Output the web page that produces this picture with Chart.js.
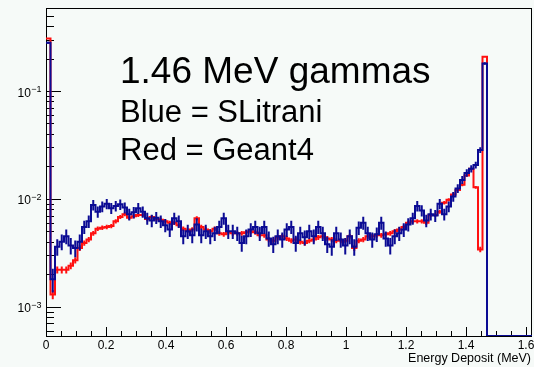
<!DOCTYPE html>
<html>
<head>
<meta charset="utf-8">
<script src="https://cdn.jsdelivr.net/npm/chart.js@4"></script>
<style>
  html, body { margin: 0; padding: 0; background: #f6faf8; }
  canvas { display: block; }
</style>
</head>
<body>
<canvas id="histo" width="534" height="367"></canvas>
<script>
// Dados (bins de 0.015 MeV) //
const binWidth = 0.015;
const xMax = 1.62;
const yMin = 5.36e-4;
const yMax = 0.588;

// SLitrani (azul)
const blueCounts = [
  0.28, 0.0018, 0.0036, 0.0040, 0.0045, 0.0037, 0.0035, 0.0040, 0.0055, 0.0062,
  0.0088, 0.0076, 0.0085, 0.0090, 0.0082, 0.0086, 0.0089, 0.0083, 0.0072, 0.0075,
  0.0082, 0.0076, 0.0066, 0.0063, 0.0067, 0.0062, 0.0057, 0.0052, 0.0066, 0.0062,
  0.0045, 0.0050, 0.0046, 0.0058, 0.0046, 0.0050, 0.0045, 0.0048, 0.0055, 0.0066,
  0.0050, 0.0050, 0.0048, 0.0039, 0.0045, 0.0052, 0.0055, 0.0048, 0.0055, 0.0043,
  0.0038, 0.0045, 0.0042, 0.0052, 0.0055, 0.0039, 0.0048, 0.0044, 0.0050, 0.0045,
  0.0055, 0.0048, 0.0038, 0.0036, 0.0048, 0.0042, 0.0037, 0.0045, 0.0036, 0.0054,
  0.0060, 0.0048, 0.0042, 0.0047, 0.0060, 0.0043, 0.0037, 0.0045, 0.0048, 0.0052,
  0.0058, 0.0066, 0.0086, 0.0078, 0.0063, 0.0072, 0.0070, 0.0090, 0.0072, 0.0085,
  0.0105, 0.0125, 0.0150, 0.0174, 0.0190, 0.0206, 0.0284, 0.180,
  0, 0, 0, 0, 0, 0, 0, 0, 0, 0
];

// Geant4 (vermelho)
const redCounts = [
  0.307, 0.0013, 0.0022, 0.0022, 0.0022, 0.0024, 0.0027, 0.0035, 0.0039, 0.0042,
  0.0048, 0.0053, 0.0054, 0.0055, 0.0056, 0.0062, 0.0068, 0.0072, 0.0067, 0.0069,
  0.0071, 0.0071, 0.0065, 0.0068, 0.0065, 0.0064, 0.0062, 0.0060, 0.0060, 0.0057,
  0.0053, 0.0051, 0.0052, 0.0066, 0.0055, 0.0052, 0.0050, 0.0053, 0.0048, 0.0047,
  0.0049, 0.0048, 0.0048, 0.0048, 0.0049, 0.0050, 0.0049, 0.0046, 0.0046, 0.0042,
  0.0041, 0.0044, 0.0045, 0.0043, 0.0041, 0.0042, 0.0040, 0.0039, 0.0041, 0.0042,
  0.0044, 0.0045, 0.0043, 0.0042, 0.0041, 0.0041, 0.0041, 0.0045, 0.0035, 0.0041,
  0.0042, 0.0045, 0.0045, 0.0046, 0.0046, 0.0047, 0.0048, 0.0050, 0.0052, 0.0055,
  0.0060, 0.0062, 0.0062, 0.0062, 0.0060, 0.0071, 0.0071, 0.0076, 0.0092, 0.0098,
  0.0110, 0.0121, 0.0135, 0.0165, 0.0190, 0.0128, 0.0034, 0.208,
  0, 0, 0, 0, 0, 0, 0, 0, 0, 0
];

// numero de eventos (para as barras de erro)
const blueEntries = 9000;
const redEntries = 80000;

const xTickLabels = [0, 0.2, 0.4, 0.6, 0.8, 1, 1.2, 1.4, 1.6];
const yDecades = [1e-3, 1e-2, 1e-1];
const yDecadeExps = ['\u22123', '\u22122', '\u22121'];

const textLines = ['1.46 MeV gammas', 'Blue = SLitrani', 'Red = Geant4'];
const xTitle = 'Energy Deposit (MeV)';

const BLUE = '#0b0b94';
const RED = '#ff1010';
const BG = '#f6faf8';
const FONT = '"Liberation Sans", Arial, Helvetica, sans-serif';

// bins vazios ficam no fundo do eixo (escala log nao aceita zero)
function toSteps(counts) {
    const pts = counts.map((v, i) => ({ x: i * binWidth, y: v > 0 ? v : yMin }));
    pts.push({ x: counts.length * binWidth, y: yMin });
    return pts;
}

// fundo, moldura e ticks //
const frame = {
    id: 'frame',
    beforeDraw(chart) {
        const c = chart.ctx;
        c.save();
        c.fillStyle = BG;
        c.fillRect(0, 0, chart.width, chart.height);
        c.restore();
    },
    beforeDatasetsDraw(chart) {
        const c = chart.ctx;
        const a = chart.chartArea;
        const xs = chart.scales.x;
        const ys = chart.scales.y;
        c.save();
        c.strokeStyle = '#000';
        c.lineWidth = 1;
        c.strokeRect(a.left + 0.5, a.top + 0.5, a.right - a.left - 1, a.bottom - a.top);

        c.beginPath();
        // x: menores a cada 0.05, maiores a cada 0.2
        for (let k = 0; k * 0.05 <= xMax + 1e-9; k++) {
            const px = Math.round(xs.getPixelForValue(k * 0.05)) + 0.5;
            const len = (k % 4 === 0) ? 9 : 5;
            c.moveTo(px, a.bottom);
            c.lineTo(px, a.bottom - len);
        }
        // y: decadas e 2..9
        for (let e = -4; e <= 0; e++) {
            for (let m = 1; m <= 9; m++) {
                const v = m * Math.pow(10, e);
                if (v < yMin || v > yMax) continue;
                const py = Math.round(ys.getPixelForValue(v)) + 0.5;
                const len = (m === 1) ? 15 : 8;
                c.moveTo(a.left, py);
                c.lineTo(a.left + len, py);
            }
        }
        c.stroke();
        c.restore();
    },
    afterDatasetDraw(chart, args) {
        const ds = chart.data.datasets[args.index];
        const c = chart.ctx;
        const xs = chart.scales.x;
        const ys = chart.scales.y;
        c.save();
        c.beginPath();
        c.rect(chart.chartArea.left, chart.chartArea.top,
               chart.chartArea.right - chart.chartArea.left,
               chart.chartArea.bottom - chart.chartArea.top);
        c.clip();
        c.strokeStyle = ds.borderColor;
        c.lineWidth = 2;
        c.beginPath();
        ds.counts.forEach((v, i) => {
            if (!v) return;
            const rel = 1 / Math.sqrt(v * ds.entries);
            const px = xs.getPixelForValue((i + 0.5) * binWidth);
            c.moveTo(px, ys.getPixelForValue(v * (1 + rel)));
            c.lineTo(px, ys.getPixelForValue(Math.max(v * (1 - rel), yMin)));
        });
        c.stroke();
        c.restore();
    },
    afterDraw(chart) {
        const c = chart.ctx;
        const a = chart.chartArea;
        const xs = chart.scales.x;
        const ys = chart.scales.y;
        c.save();
        c.fillStyle = '#000';

        // labels do eixo x
        c.font = '12px ' + FONT;
        c.textAlign = 'center';
        c.textBaseline = 'alphabetic';
        xTickLabels.forEach(t => {
            c.fillText(String(t), xs.getPixelForValue(t), a.bottom + 13);
        });

        // labels do eixo y (10 com expoente)
        yDecades.forEach((d, i) => {
            const py = ys.getPixelForValue(d);
            c.textAlign = 'left';
            c.font = '12px ' + FONT;
            c.fillText('10', 17.5, py + 5.5);
            const w = c.measureText('10').width;
            c.font = '9px ' + FONT;
            c.fillText(yDecadeExps[i], 17.5 + w + 0.5, py + 1);
        });

        // titulo do eixo x
        c.font = '12.5px ' + FONT;
        c.textAlign = 'right';
        c.fillText(xTitle, 531, 362);

        // texto dentro do grafico
        c.textAlign = 'left';
        c.font = '37px ' + FONT;
        c.fillText(textLines[0], 120, 83);
        c.font = '31px ' + FONT;
        c.fillText(textLines[1], 120, 122);
        c.fillText(textLines[2], 120, 160);
        c.restore();
    }
};

const ctx = document.getElementById('histo');

new Chart(ctx, {
    type: 'line',
    data: {
        datasets: [{
            label: 'SLitrani',
            data: toSteps(blueCounts),
            counts: blueCounts,
            entries: blueEntries,
            borderColor: BLUE,
            borderWidth: 2,
            pointRadius: 0,
            stepped: true,
            fill: false,
            order: 0
        }, {
            label: 'Geant4',
            data: toSteps(redCounts),
            counts: redCounts,
            entries: redEntries,
            borderColor: RED,
            borderWidth: 2,
            pointRadius: 0,
            stepped: true,
            fill: false,
            order: 1
        }]
    },
    options: {
        responsive: false,
        animation: false,
        layout: { padding: { left: 0, top: 8, right: 2, bottom: 0 } },
        plugins: {
            legend: { display: false },
            tooltip: { enabled: false }
        },
        scales: {
            x: {
                type: 'linear',
                min: 0,
                max: xMax,
                ticks: { display: false },
                grid: { display: false },
                border: { display: false },
                afterFit: s => { s.height = 31; }
            },
            y: {
                type: 'logarithmic',
                min: yMin,
                max: yMax,
                ticks: { display: false },
                grid: { display: false },
                border: { display: false },
                afterFit: s => { s.width = 46; }
            }
        }
    },
    plugins: [frame]
});
</script>
</body>
</html>
